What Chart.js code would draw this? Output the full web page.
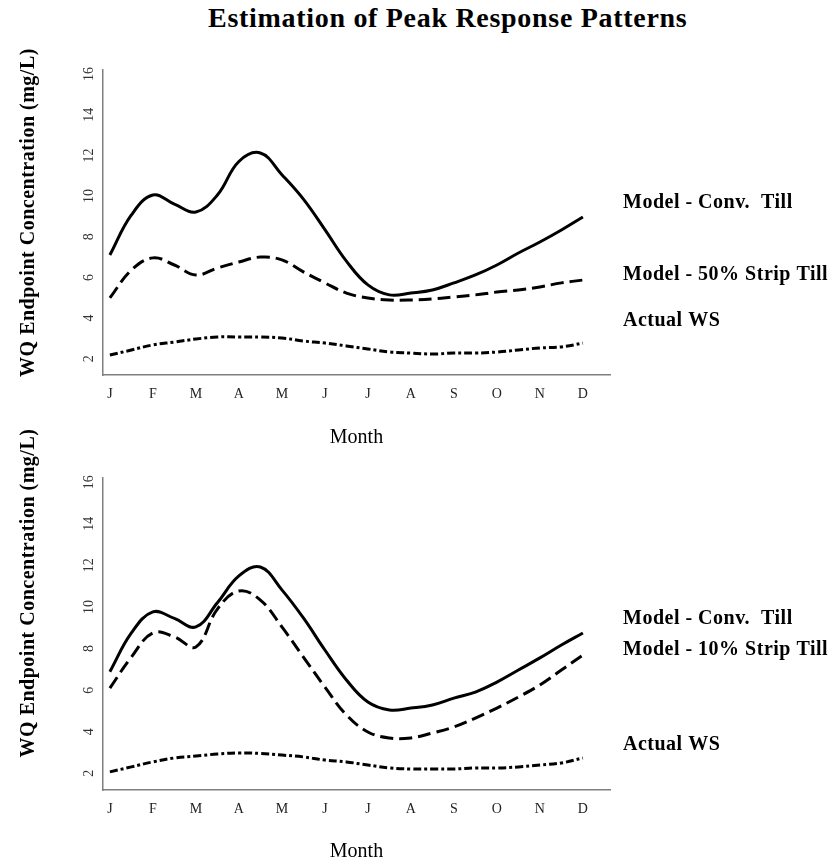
<!DOCTYPE html>
<html lang="en">
<head>
  <meta charset="UTF-8">
  <title>Estimation of Peak Response Patterns</title>
  <script src="https://cdn.jsdelivr.net/npm/chart.js"></script>
  <style>
    body {
      margin: 0;
      width: 834px;
      height: 864px;
      position: relative;
      overflow: hidden;
      background: #fff;
      font-family: 'Liberation Serif', serif;
    }
    h1 {
      position: absolute;
      left: 208px;
      top: 4px;
      margin: 0;
      font-size: 28px;
      line-height: 28px;
      letter-spacing: 0.7px;
      white-space: nowrap;
      color: #000;
    }
    canvas { position: absolute; left: 0; }
    #topChart { top: 40px; }
    #bottomChart { top: 420px; }
  </style>
</head>
<body>

  <h1>Estimation of Peak Response Patterns</h1>
  <canvas id="topChart" width="834" height="410"></canvas>
  <canvas id="bottomChart" width="834" height="444"></canvas>

  <script>
    // month positions (half-month steps) and axis labels
    const monthPos = [1, 1.5, 2, 2.5, 3, 3.5, 4, 4.5, 5, 5.5, 6, 6.5, 7, 7.5, 8, 8.5, 9, 9.5, 10, 10.5, 11, 11.5, 12];
    const monthTicks = [1, 2, 3, 4, 5, 6, 7, 8, 9, 10, 11, 12];
    const monthLabels = ['J', 'F', 'M', 'A', 'M', 'J', 'J', 'A', 'S', 'O', 'N', 'D'];
    const yTicks = [2, 4, 6, 8, 10, 12, 14, 16];
    const yTitle = 'WQ Endpoint Concentration (mg/L)';

    // upper panel
    const convTillTop = [7.10, 9.07, 10.05, 9.6, 9.22, 10.05, 11.7, 12.12, 11.05, 9.85, 8.35, 6.8, 5.63, 5.14, 5.23, 5.38, 5.73, 6.12, 6.61, 7.20, 7.74, 8.33, 8.97];
    const strip50 = [4.99, 6.36, 6.96, 6.61, 6.12, 6.46, 6.76, 7.00, 6.86, 6.27, 5.73, 5.23, 4.99, 4.89, 4.89, 4.94, 5.04, 5.14, 5.28, 5.38, 5.53, 5.73, 5.87];
    const actualTop = [2.18, 2.43, 2.68, 2.82, 2.97, 3.07, 3.07, 3.07, 3.02, 2.87, 2.77, 2.63, 2.48, 2.33, 2.28, 2.23, 2.28, 2.28, 2.33, 2.43, 2.53, 2.58, 2.77];

    // lower panel
    const convTillBottom = [6.89, 8.75, 9.76, 9.45, 9.04, 10.2, 11.49, 11.92, 10.82, 9.47, 7.93, 6.49, 5.43, 5.05, 5.14, 5.29, 5.62, 5.91, 6.39, 6.97, 7.55, 8.17, 8.75];
    const strip10 = [6.10, 7.59, 8.75, 8.56, 8.08, 9.9, 10.77, 10.33, 9.04, 7.59, 6.15, 4.81, 3.99, 3.70, 3.70, 3.94, 4.23, 4.66, 5.14, 5.67, 6.25, 6.97, 7.69];
    const actualBottom = [2.07, 2.31, 2.55, 2.74, 2.83, 2.93, 2.98, 2.96, 2.88, 2.79, 2.64, 2.55, 2.40, 2.26, 2.21, 2.21, 2.21, 2.26, 2.26, 2.31, 2.40, 2.50, 2.74];

    const topNames = ['Model - Conv.  Till', 'Model - 50% Strip Till', 'Actual WS'];
    const bottomNames = ['Model - Conv.  Till', 'Model - 10% Strip Till', 'Actual WS'];

    Chart.defaults.font.family = "'Liberation Serif', serif";
    Chart.defaults.color = '#000';

    const pts = vals => vals.map((v, i) => ({ x: monthPos[i], y: v }));

    function lineSet(label, vals, dash) {
      return {
        label: label,
        data: pts(vals),
        borderColor: '#000',
        borderWidth: 3,
        borderDash: dash,
        borderCapStyle: 'butt',
        pointRadius: 0,
        tension: 0.4,
        fill: false
      };
    }

    // series names to the right of the plot + rotated y title
    const sideLabels = {
      id: 'sideLabels',
      afterDraw(chart, args, opts) {
        const { ctx, chartArea, scales } = chart;
        ctx.save();
        ctx.font = "bold 20px 'Liberation Serif'";
        if ('letterSpacing' in ctx) ctx.letterSpacing = '0.5px';
        ctx.fillStyle = '#000';
        ctx.textBaseline = 'middle';
        ctx.textAlign = 'left';
        opts.text.forEach((t, i) => {
          ctx.fillText(t, chartArea.right + 13, scales.y.getPixelForValue(opts.at[i]));
        });
        // y axis title
        ctx.translate(29, (chartArea.top + chartArea.bottom) / 2 + opts.titleShift);
        ctx.rotate(-Math.PI / 2);
        ctx.textAlign = 'center';
        ctx.fillText(yTitle, 0, 0);
        ctx.restore();
      }
    };

    function makeChart(id, datasets, names, labelAt, titleShift, padTop, xHeight) {
      return new Chart(document.getElementById(id), {
        type: 'line',
        data: { datasets: datasets },
        plugins: [sideLabels],
        options: {
          responsive: false,
          animation: false,
          devicePixelRatio: 1,
          layout: { padding: { top: padTop, right: 224, left: 0, bottom: 0 } },
          plugins: {
            legend: { display: false },
            tooltip: { enabled: false },
            sideLabels: { text: names, at: labelAt, titleShift: titleShift }
          },
          scales: {
            x: {
              type: 'linear',
              min: 0.84,
              max: 12.63,
              grid: { display: false, drawTicks: false },
              border: { display: true, color: '#7f7f7f', width: 1.5 },
              afterBuildTicks: s => { s.ticks = monthTicks.map(v => ({ value: v })); },
              afterFit: s => { s.height = xHeight; },
              ticks: {
                autoSkip: false,
                maxRotation: 0,
                padding: 11,
                color: '#222',
                font: { size: 14 },
                callback: v => monthLabels[v - 1]
              },
              title: {
                display: true,
                text: 'Month',
                color: '#000',
                font: { size: 20 },
                padding: { top: 0, bottom: 0 }
              }
            },
            y: {
              min: 1.2,
              max: 16.2,
              grid: { display: false, drawTicks: false },
              border: { display: true, color: '#7f7f7f', width: 1.5 },
              afterBuildTicks: s => { s.ticks = yTicks.map(v => ({ value: v })); },
              afterFit: s => { s.width = 103; },
              ticks: {
                minRotation: 90,
                maxRotation: 90,
                crossAlign: 'center',
                padding: 7,
                color: '#333',
                font: { size: 14 }
              }
            }
          }
        }
      });
    }

    makeChart('topChart', [
      lineSet(topNames[0], convTillTop, []),
      lineSet(topNames[1], strip50, [13, 6]),
      lineSet(topNames[2], actualTop, [8, 3, 3, 3])
    ], topNames, [9.66, 6.12, 3.86], -10, 30, 75);

    makeChart('bottomChart', [
      lineSet(bottomNames[0], convTillBottom, []),
      lineSet(bottomNames[1], strip10, [13, 6]),
      lineSet(bottomNames[2], actualBottom, [8, 3, 3, 3])
    ], bottomNames, [9.42, 7.93, 3.36], -41, 58, 74);
  </script>

</body>
</html>
